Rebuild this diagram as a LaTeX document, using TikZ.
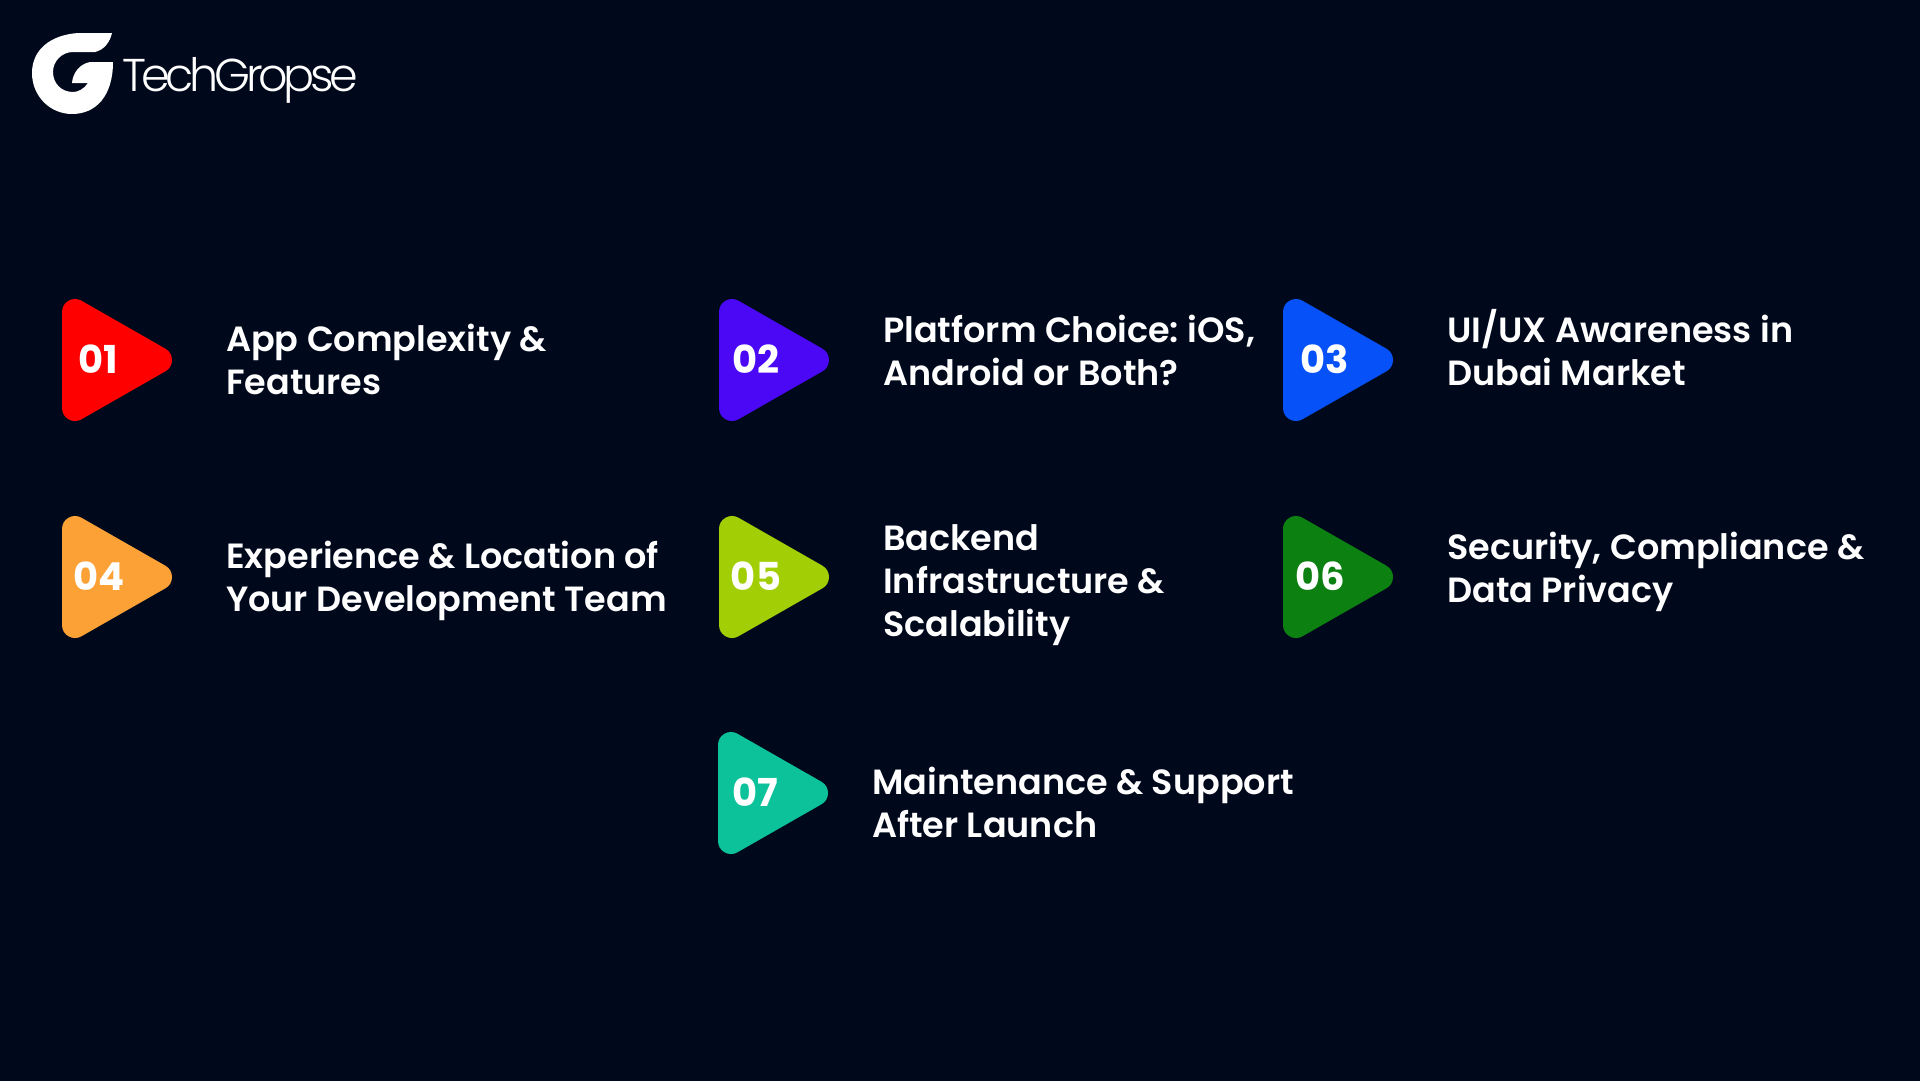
\documentclass[tikz,border=0pt]{standalone}
\usepackage{fontspec}
\setmainfont{Poppins}[UprightFont=* SemiBold,BoldFont=* Bold]
\newfontfamily\logofont{Poppins Light}[LetterSpace=-9.5]
\definecolor{bgc}{HTML}{00081C}
\definecolor{c1}{HTML}{FE0000}
\definecolor{c2}{HTML}{4A08F5}
\definecolor{c3}{HTML}{0652F8}
\definecolor{c4}{HTML}{FBA136}
\definecolor{c5}{HTML}{A2CE06}
\definecolor{c6}{HTML}{0D8012}
\definecolor{c7}{HTML}{0CC29A}
\tikzset{
  x=1pt,y=-1pt,
  tri/.style={fill=#1,draw=#1,line width=26pt,line join=round},
  num/.style={text=white,font=\fontsize{38.5}{38}\selectfont\bfseries,anchor=base},
  lab/.style={text=white,font=\fontsize{35}{43}\selectfont,anchor=north west,align=left,inner sep=0pt},
}
\newcommand{\playtri}[6]{% name x cy color number numx
  \draw[tri=#4] (#2+13,#3-48) -- (#2+97,#3) -- (#2+13,#3+48) -- cycle;
  \node[num] (#1) at (#2+#6,#3+13) {#5};
}
\begin{document}
\begin{tikzpicture}
\useasboundingbox (0,0) rectangle (1920,1080);
\fill[bgc] (-3,-3) rectangle (1923,1083);
\fill[white] (112,33) -- (78,33)
  .. controls (50,35) and (32,50) .. (32,73)
  .. controls (32,96) and (50,114) .. (72,114)
  .. controls (96,114) and (113,96) .. (113,62)
  -- (90,62) .. controls (80,64) and (73,72) .. (72,83) -- (88,83)
  .. controls (84,89) and (78,92) .. (73,92)
  .. controls (61,92) and (53,83) .. (53,72)
  .. controls (53,61) and (62,52) .. (73,52)
  -- (95,52) .. controls (104,50) and (110,42) .. (112,33) -- cycle;
\node[text=white,font=\logofont\fontsize{46}{46}\selectfont,anchor=base west,inner sep=0pt] (logo) at (122,91) {TechGropse};
\playtri{n1}{62}{360}{c1}{01}{36.5}
\playtri{n2}{719}{360}{c2}{02}{37}
\playtri{n3}{1283}{360}{c3}{03}{42}
\playtri{n4}{62}{577}{c4}{04}{37}
\playtri{n5}{719}{577}{c5}{05}{37}
\playtri{n6}{1283}{577}{c6}{06}{37}
\playtri{n7}{718}{793}{c7}{07}{37}
\node[lab] (t1) at (226,323.5) {App Complexity \&\\Features};
\node[lab] (t2) at (883,314.5) {Platform Choice:\kern-2.5pt{} iOS,\\Android or Both?};
\node[lab] (t3) at (1447,309.5) {UI/UX Awareness in\\Dubai Market};
\node[lab] (t4) at (226,540.5) {Experience \& Location of\\Your Development Team};
\node[lab] (t5) at (883,524.5) {Backend\\Infrastructure \&\\Scalability};
\node[lab] (t6) at (1447,531.5) {Security, Compliance \&\\Data Privacy};
\node[lab] (t7) at (872,767) {Maintenance \& Support\\After Launch};
\end{tikzpicture}
\end{document}
